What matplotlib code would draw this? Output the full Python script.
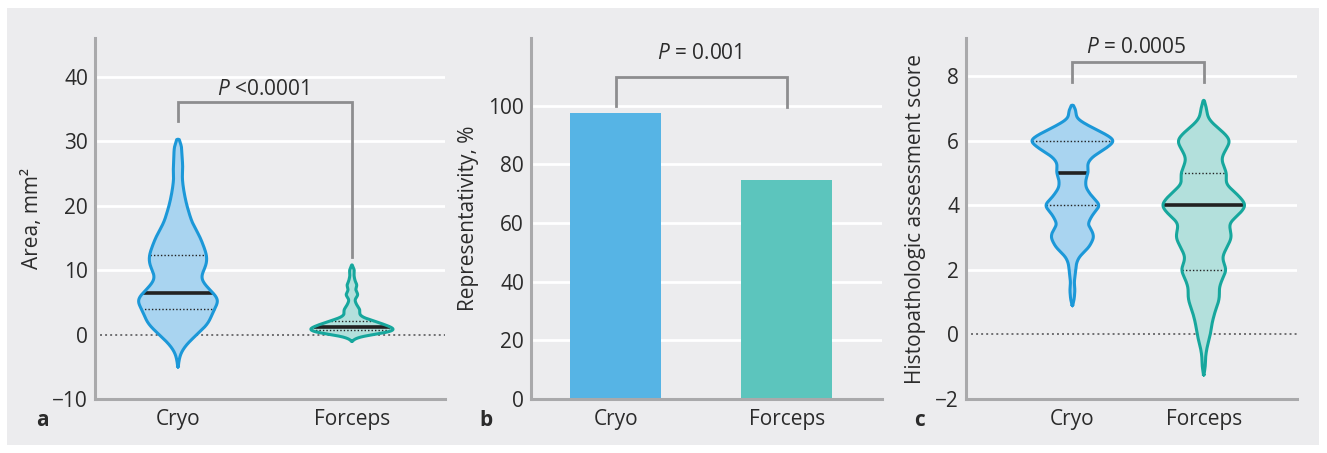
import numpy as np
import matplotlib
matplotlib.use("Agg")
import matplotlib.pyplot as plt
from matplotlib.patches import Rectangle

plt.rcParams['font.family'] = ['Open Sans', 'DejaVu Sans']
plt.rcParams['mathtext.fontset'] = 'custom'
plt.rcParams['mathtext.it'] = 'Open Sans:italic'
plt.rcParams['mathtext.rm'] = 'Open Sans'

# ---- data ----
groups = ['Cryo', 'Forceps']

# panel a: violin outlines (y level, half width) + quartiles
area_cryo_y = [30.3, 29.5, 27.5, 26, 24.4, 22.3, 20.3, 17.4, 15.1, 12.3, 11, 8.7, 7.1, 5.4, 3.8, 1.7, 0, -1.4, -2.9, -5]
area_cryo_w = [0, .023, .023, .029, .023, .033, .048, .080, .128, .167, .167, .125, .176, .243, .205, .176, .109, .052, .013, 0]
area_forc_y = [10.8, 10, 9.2, 8.2, 7.7, 6.9, 6.2, 5.4, 4.6, 3.8, 3.1, 2.6, 2.05, 1.5, 1.0, 0.67, 0.26, -0.26, -0.67, -1.0]
area_forc_w = [0, .015, .011, .019, .031, .019, .038, .015, .027, .048, .042, .067, .134, .192, .239, .249, .192, .057, .015, 0]
area_quart = [(4.0, 6.4, 12.3), (0.67, 1.2, 2.15)]  # q1, median, q3

# panel b: bars
repres = [97.6, 74.7]

# panel c
score_cryo_y = [7.1, 7.0, 6.7, 6.6, 6.4, 6.2, 6.0, 5.75, 5.5, 5.3, 5.0, 4.8, 4.55, 4.25, 4.0, 3.7, 3.4, 3.2, 3.0, 2.7, 2.4, 2.2, 1.8, 1.6, 1.4, 1.05, 0.9]
score_cryo_w = [0, .025, .030, .063, .152, .253, .329, .253, .152, .114, .122, .101, .101, .152, .215, .152, .114, .152, .165, .127, .051, .030, .020, .013, .020, .013, 0]
score_forc_y = [7.25, 7.05, 6.7, 6.5, 6.25, 6.0, 5.7, 5.45, 5.2, 5.0, 4.65, 4.35, 4.0, 3.7, 3.45, 3.2, 3.0, 2.7, 2.4, 2.2, 2.0, 1.7, 1.4, 1.25, 1.0, 0.75, 0.35, 0, -0.4, -0.7, -1.0, -1.25]
score_forc_w = [0, .020, .030, .076, .152, .208, .165, .132, .152, .177, .165, .253, .329, .266, .190, .203, .215, .177, .139, .152, .177, .139, .114, .122, .114, .089, .063, .051, .025, .013, .013, 0]
score_quart = [(4, 5, 6), (2, 4, 5)]

p_texts = [r'$\it{P}$ <0.0001', r'$\it{P}$ = 0.001', r'$\it{P}$ = 0.0005']

# ---- styles ----
bg = '#ececee'
spine_c = '#a9a9ab'
brk_c = '#8d8d8f'
txt_c = '#2b2b2b'
line_cols = ['#1c98d8', '#17a79d']
fill_cols = ['#a9d4f0', '#b3e0dc']
bar_cols = ['#56b4e5', '#5cc5bd']
fs = 15

fig = plt.figure(figsize=(13.27, 4.53), dpi=100)
fig.patch.set_facecolor('white')
fig.patches.append(Rectangle((7 / 1327, 8 / 453), 1312 / 1327, 437 / 453,
                             transform=fig.transFigure, facecolor=bg, edgecolor='none', zorder=-10))


def style_axes(ax, ylim, yticks, grid_vals, xlim):
    ax.set_facecolor('none')
    ax.set_xlim(xlim)
    ax.set_ylim(ylim)
    for s in ['top', 'right']:
        ax.spines[s].set_visible(False)
    for s in ['left', 'bottom']:
        ax.spines[s].set_color(spine_c)
        ax.spines[s].set_linewidth(2.2)
    ax.set_yticks(yticks)
    ax.set_yticklabels([str(v).replace('-', '\u2212') for v in yticks])
    ax.set_xticks([0, 1])
    ax.set_xticklabels(groups)
    ax.tick_params(axis='y', length=0, pad=5, labelsize=fs, labelcolor=txt_c)
    ax.tick_params(axis='x', length=0, pad=7, labelsize=fs, labelcolor=txt_c)
    for g in grid_vals:
        ax.axhline(g, color='white', lw=2.0, zorder=0)


def violin(ax, x, ys, ws, quart, k, smooth):
    ys = np.asarray(ys, float)
    ws = np.asarray(ws, float)
    order = np.argsort(ys)
    ys, ws = ys[order], ws[order]
    yy = np.linspace(ys[0], ys[-1], 600)
    ww = np.interp(yy, ys, ws)
    # light smoothing of the traced outline
    dy = yy[1] - yy[0]
    sig = smooth * (ys[-1] - ys[0])
    kx = np.arange(-4 * sig, 4 * sig + dy, dy)
    ker = np.exp(-0.5 * (kx / sig) ** 2)
    ker /= ker.sum()
    pad = len(kx)
    ww = np.convolve(np.concatenate([np.zeros(pad), ww, np.zeros(pad)]), ker, mode='same')[pad:-pad]
    ww[0] = ww[-1] = 0
    ax.fill_betweenx(yy, x - ww, x + ww, color=fill_cols[k], lw=0, zorder=2)
    ax.plot(np.concatenate([x + ww, (x - ww)[::-1]]), np.concatenate([yy, yy[::-1]]),
            color=line_cols[k], lw=2.2, zorder=4, solid_joinstyle='round')
    q1, med, q3 = quart
    for q in (q1, q3):
        h = np.interp(q, yy, ww)
        ax.plot([x - h, x + h], [q, q], color='#222222', lw=1.0, ls=(0, (1, 1.5)), zorder=3)
    h = np.interp(med, yy, ww)
    ax.plot([x - h, x + h], [med, med], color='#222222', lw=2.6, zorder=3, solid_capstyle='butt')


def bracket(ax, y_left, y_right, y_top, text, ty):
    ax.plot([0, 0, 1, 1], [y_left, y_top, y_top, y_right], color=brk_c, lw=2.0, zorder=5,
            solid_joinstyle='miter')
    ax.text(0.49, ty, text, ha='center', va='center', fontsize=fs, color=txt_c)


# ---- panel a ----
ax1 = fig.add_axes([95 / 1327, 54 / 453, 350 / 1327, 361 / 453])
style_axes(ax1, (-10, 46), [-10, 0, 10, 20, 30, 40], [10, 20, 30, 40], (-0.477, 1.535))
ax1.axhline(0, color='#6e6e70', lw=1.4, ls=(0, (1, 1.6)), zorder=1)
violin(ax1, 0, area_cryo_y, area_cryo_w, area_quart[0], 0, 0.02)
violin(ax1, 1, area_forc_y, area_forc_w, area_quart[1], 1, 0.02)
bracket(ax1, 33.2, 12.0, 36.1, p_texts[0], 38.0)
ax1.set_ylabel('Area, mm\u00b2', fontsize=fs, color=txt_c, labelpad=7)

# ---- panel b ----
ax2 = fig.add_axes([531 / 1327, 54 / 453, 351 / 1327, 361 / 453])
style_axes(ax2, (0, 123), [0, 20, 40, 60, 80, 100], [20, 40, 60, 80, 100], (-0.494, 1.556))
ax2.bar([0, 1], repres, width=0.53, color=bar_cols, zorder=2)
bracket(ax2, 99.7, 99.5, 109.8, p_texts[1], 117.7)
ax2.set_ylabel('Representativity, %', fontsize=fs, color=txt_c, labelpad=7)

# ---- panel c ----
ax3 = fig.add_axes([966 / 1327, 54 / 453, 331 / 1327, 361 / 453])
style_axes(ax3, (-2, 9.18), [-2, 0, 2, 4, 6, 8], [2, 4, 6, 8], (-0.81, 1.71))
ax3.axhline(0, color='#6e6e70', lw=1.4, ls=(0, (1, 1.6)), zorder=1)
violin(ax3, 0, score_cryo_y, score_cryo_w, score_quart[0], 0, 0.013)
violin(ax3, 1, score_forc_y, score_forc_w, score_quart[1], 1, 0.013)
bracket(ax3, 7.82, 7.82, 8.44, p_texts[2], 8.9)
ax3.set_ylabel('Histopathologic assessment score', fontsize=fs, color=txt_c, labelpad=7)

# panel letters
for xl, lab in [(42, 'a'), (486, 'b'), (920, 'c')]:
    fig.text(xl / 1327, (453 - 421) / 453, lab, fontsize=fs, fontweight='bold',
             color=txt_c, ha='center', va='center')

fig.savefig('out.png', dpi=100, facecolor='white')
